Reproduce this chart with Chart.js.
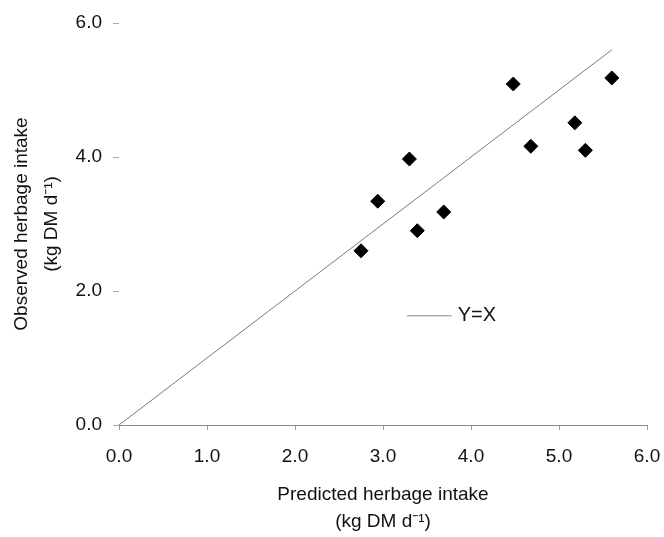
<!DOCTYPE html>
<html>
<head>
<meta charset="utf-8">
<script src="https://cdn.jsdelivr.net/npm/chart.js@4/dist/chart.umd.min.js"></script>
<style>
  body { margin: 0; background: #fff; }
  #wrap { width: 664px; height: 537px; }
</style>
</head>
<body>
<div id="wrap"><canvas id="intakeChart" width="664" height="537"></canvas></div>
<script>
// Predicted vs observed herbage intake (kg DM per day)
const predicted = [2.75, 2.94, 3.30, 3.39, 3.69, 4.48, 4.68, 5.18, 5.30, 5.60];
const observed  = [2.60, 3.34, 3.97, 2.90, 3.18, 5.09, 4.16, 4.51, 4.10, 5.18];

// Y = X reference line end points
const lineX = [0, 5.6];
const lineY = [0, 5.6];

const axisMin = 0;
const axisMax = 6;
const xStep = 1;
const yStep = 2;

const FONT = "'Liberation Sans', Arial, sans-serif";

// Draw the "Y=X" legend inside the plot
const lineLegend = {
  id: 'lineLegend',
  afterDraw(chart) {
    const ctx = chart.ctx;
    const xs = chart.scales.x;
    const ys = chart.scales.y;
    const x0 = xs.getPixelForValue(3.27);
    const x1 = xs.getPixelForValue(3.78);
    const y = ys.getPixelForValue(1.63);
    ctx.save();
    ctx.strokeStyle = '#8a8a8a';
    ctx.lineWidth = 1;
    ctx.beginPath();
    ctx.moveTo(x0, y);
    ctx.lineTo(x1, y);
    ctx.stroke();
    ctx.fillStyle = '#111';
    ctx.font = '20px ' + FONT;
    ctx.textBaseline = 'middle';
    ctx.fillText(chart.data.datasets[1].label, x1 + 6, y);
    ctx.restore();
  }
};

new Chart(document.getElementById('intakeChart'), {
  type: 'scatter',
  data: {
    datasets: [
      {
        label: 'Observed',
        data: predicted.map((p, i) => ({ x: p, y: observed[i] })),
        pointStyle: 'rectRot',
        pointRadius: 7,
        pointHoverRadius: 7,
        backgroundColor: '#000',
        borderColor: '#000',
        borderWidth: 1
      },
      {
        type: 'line',
        label: 'Y=X',
        data: lineX.map((v, i) => ({ x: v, y: lineY[i] })),
        borderColor: '#7a7a7a',
        borderWidth: 1,
        pointRadius: 0,
        fill: false
      }
    ]
  },
  options: {
    responsive: false,
    animation: false,
    layout: { padding: { top: 23, right: 0, bottom: 0, left: 0 } },
    plugins: {
      legend: { display: false },
      tooltip: { enabled: false }
    },
    scales: {
      x: {
        type: 'linear',
        min: axisMin,
        max: axisMax,
        afterFit: s => {
          s.height = 112;
          s.paddingRight = 17;
          s.paddingLeft = 0;
        },
        ticks: {
          stepSize: xStep,
          padding: 15,
          color: '#111',
          font: { family: FONT, size: 19 },
          callback: v => v.toFixed(1)
        },
        grid: {
          drawOnChartArea: false,
          drawTicks: true,
          tickLength: 5,
          color: '#999'
        },
        border: { display: true, color: '#8a8a8a', width: 1 },
        title: {
          display: true,
          text: ['Predicted herbage intake', '(kg DM d\u207B\u00B9)'],
          color: '#111',
          font: { family: FONT, size: 19, lineHeight: 1.42 },
          padding: { top: 0, bottom: 1.5 }
        }
      },
      y: {
        type: 'linear',
        min: axisMin,
        max: axisMax,
        afterFit: s => { s.width = 119; },
        ticks: {
          stepSize: yStep,
          padding: 11,
          color: '#111',
          font: { family: FONT, size: 19 },
          callback: v => v.toFixed(1)
        },
        grid: {
          drawOnChartArea: false,
          drawTicks: true,
          tickLength: 6,
          color: '#aaa'
        },
        border: { display: false },
        title: {
          display: true,
          text: ['Observed herbage intake', '(kg DM d\u207B\u00B9)'],
          color: '#111',
          font: { family: FONT, size: 19, lineHeight: 1.58 },
          padding: { top: 7, bottom: 0 }
        }
      }
    }
  },
  plugins: [lineLegend]
});
</script>
</body>
</html>
